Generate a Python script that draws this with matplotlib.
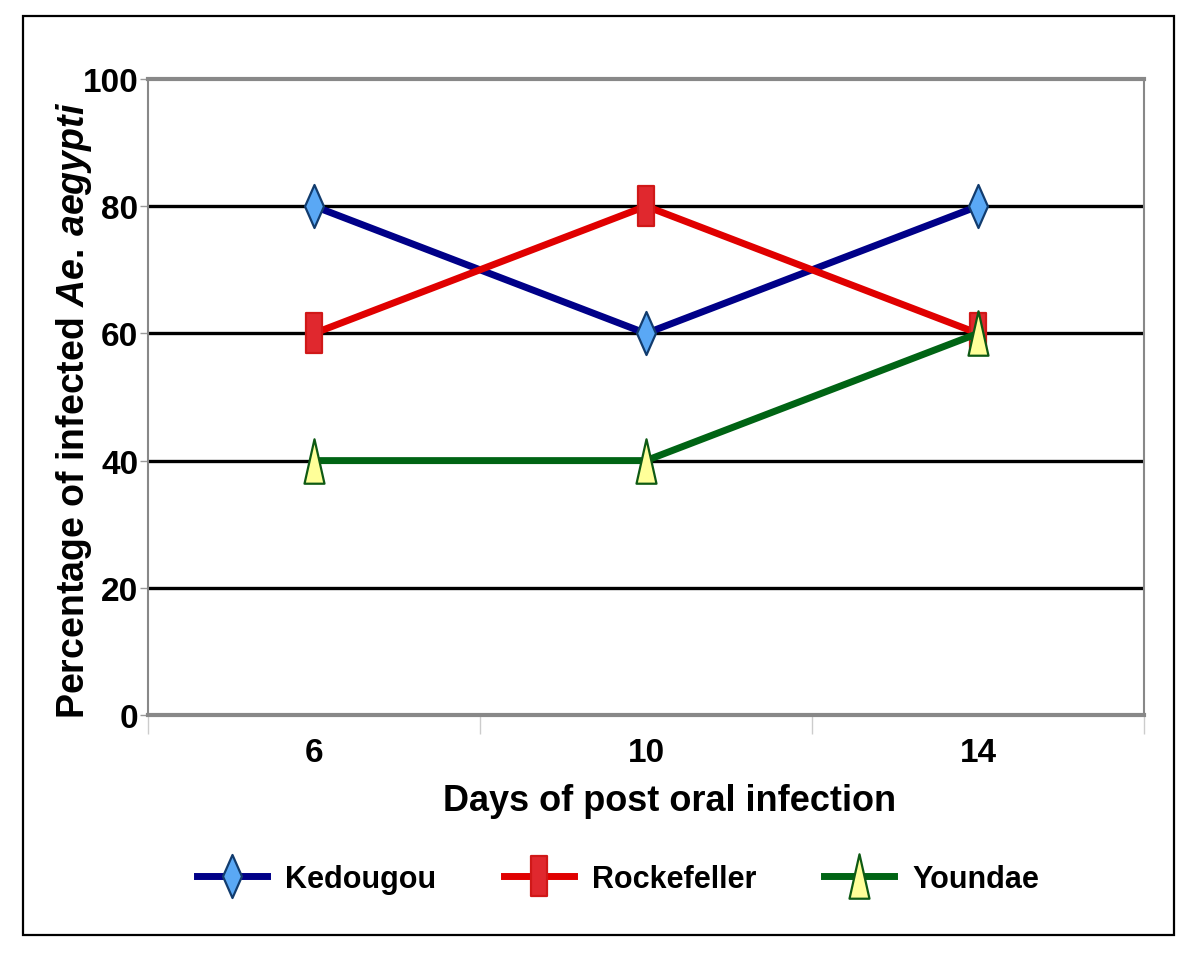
import numpy as np
import matplotlib
matplotlib.use("Agg")
import matplotlib.pyplot as plt
from matplotlib.path import Path
from matplotlib.patches import Rectangle

plt.rcParams["font.family"] = ["Liberation Sans", "DejaVu Sans"]
plt.rcParams["font.weight"] = "bold"
plt.rcParams["mathtext.fontset"] = "custom"
plt.rcParams["mathtext.it"] = "Liberation Sans:italic:bold"
plt.rcParams["mathtext.rm"] = "Liberation Sans:bold"

days = ["6", "10", "14"]
kedougou = [80, 60, 80]
rockefeller = [60, 80, 60]
youndae = [40, 40, 60]
yticks = [0, 20, 40, 60, 80, 100]

# tall, narrow marker shapes
DIAMOND = Path([(0, 1), (0.44, 0), (0, -1), (-0.44, 0), (0, 1)],
               [Path.MOVETO, Path.LINETO, Path.LINETO, Path.LINETO, Path.CLOSEPOLY])
RECT = Path([(-0.38, -1), (0.38, -1), (0.38, 1), (-0.38, 1), (-0.38, -1)],
            [Path.MOVETO, Path.LINETO, Path.LINETO, Path.LINETO, Path.CLOSEPOLY])
TRI = Path([(0, 1), (0.45, -1), (-0.45, -1), (0, 1)],
           [Path.MOVETO, Path.LINETO, Path.LINETO, Path.CLOSEPOLY])

fig = plt.figure(figsize=(12, 9.54), dpi=100)
ax = fig.add_axes([148/1200, 1-716/954, (1144-148)/1200, (716-80)/954])

x = np.arange(len(days))
series = [
    ("Kedougou", kedougou, "#000088", DIAMOND, "#5aa8f5", "#123c6e", 31),
    ("Rockefeller", rockefeller, "#e00000", RECT, "#e0282e", "#d01818", 29),
    ("Youndae", youndae, "#006414", TRI, "#ffff99", "#0e5a14", 32),
]
for name, vals, col, mk, mfc, mec, ms in series:
    ax.plot(x, vals, color=col, lw=5, marker=mk, ms=ms, mfc=mfc, mec=mec,
            mew=1.6, label=name, zorder=4, clip_on=False)

for yv in yticks[1:-1]:
    ax.axhline(yv, color="black", lw=2.4, zorder=1)

ax.set_xlim(-0.5, 2.5)
ax.set_ylim(0, 100)
ax.set_yticks(yticks)
ax.set_yticklabels([str(v) for v in yticks], fontsize=24, fontweight="bold")
ax.set_xticks(x)
ax.set_xticklabels(days, fontsize=24, fontweight="bold")
ax.tick_params(axis="x", which="major", length=0, pad=16)
ax.set_xticks([-0.5, 0.5, 1.5, 2.5], minor=True)
ax.tick_params(axis="x", which="minor", length=14, width=1, color="#cccccc")
ax.tick_params(axis="y", length=6, width=1, color="#999999", pad=1)

for s, w in [("top", 3), ("bottom", 3), ("left", 1.5), ("right", 1.5)]:
    ax.spines[s].set_color("#888888")
    ax.spines[s].set_linewidth(w)

ax.set_xlabel("Days of post oral infection", fontsize=26, fontweight="bold", va="center")
ax.xaxis.set_label_coords(0.524, -0.135)
ax.set_ylabel(r"Percentage of infected $\mathit{Ae.\,aegypti}$", fontsize=27,
              fontweight="bold", va="center")
ax.yaxis.set_label_coords(-0.074, 0.481)

fig.legend(loc="center", bbox_to_anchor=(0.515, 1-880/954), ncol=3, frameon=False,
           handlelength=2.3, columnspacing=2.2, handletextpad=0.6,
           prop={"weight": "bold", "size": 22})

fig.patches.append(Rectangle((23/1200, 1-936/954), (1174-23)/1200, (936-17)/954,
                             transform=fig.transFigure, fill=False, ec="black", lw=1.6))

fig.savefig("out.png", dpi=100)
